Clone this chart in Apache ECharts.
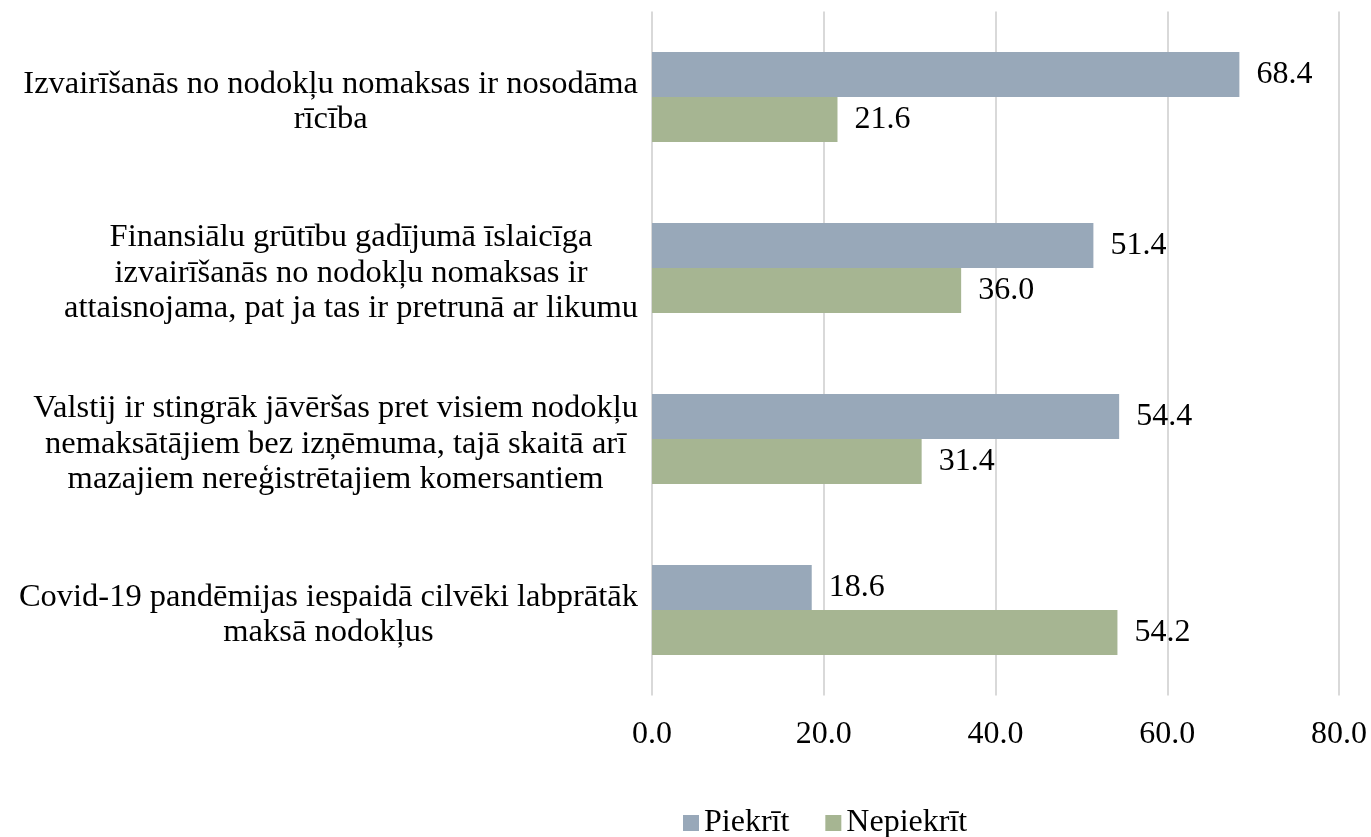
<!DOCTYPE html>
<html>
<head>
<meta charset="utf-8">
<script src="https://cdn.jsdelivr.net/npm/echarts@6/dist/echarts.min.js"></script>
<style>
  html, body { margin: 0; padding: 0; background: #fff; }
  #chart { width: 1371px; height: 837px; }
</style>
</head>
<body>
<div id="chart"></div>
<script>
const categories = [
  "Izvairīšanās no nodokļu nomaksas ir nosodāma\nrīcība",
  "Finansiālu grūtību gadījumā īslaicīga\nizvairīšanās no nodokļu nomaksas ir\nattaisnojama, pat ja tas ir pretrunā ar likumu",
  "Valstij ir stingrāk jāvēršas pret visiem nodokļu\nnemaksātājiem bez izņēmuma, tajā skaitā arī\nmazajiem nereģistrētajiem komersantiem",
  "Covid-19 pandēmijas iespaidā cilvēki labprātāk\nmaksā nodokļus"
];
const piekrit = [68.4, 51.4, 54.4, 18.6];
const nepiekrit = [21.6, 36.0, 31.4, 54.2];
const xTicks = [0, 20, 40, 60, 80];

const font = "'Liberation Serif', 'Times New Roman', serif";

const chart = echarts.init(document.getElementById("chart"));

const barLabel = {
  show: true,
  position: "right",
  distance: 17,
  fontFamily: font,
  fontSize: 32,
  color: "#000",
  formatter: (p) => p.value.toFixed(1),
};

chart.setOption({
  animation: false,
  textStyle: { fontFamily: font },
  grid: { left: 652, right: 32, top: 11.5, bottom: 141.5, containLabel: false },
  legend: {
    top: 802,
    left: 678,
    itemWidth: 16,
    itemHeight: 16,
    itemGap: 36,
    icon: "rect",
    textStyle: { fontFamily: font, fontSize: 32, color: "#000" },
    data: ["Piekrīt", "Nepiekrīt"],
  },
  xAxis: {
    type: "value",
    min: xTicks[0],
    max: xTicks[xTicks.length - 1],
    interval: 20,
    axisLine: { show: false },
    axisTick: { show: false },
    splitLine: { lineStyle: { color: "#d9d9d9", width: 2 } },
    axisLabel: {
      margin: 23,
      fontFamily: font,
      fontSize: 32,
      color: "#000",
      formatter: (v) => v.toFixed(1),
    },
  },
  yAxis: {
    type: "category",
    inverse: true,
    data: categories,
    axisLine: { show: false },
    axisTick: { show: false },
    axisLabel: {
      margin: 14,
      align: "right",
      padding: [10, 0, 0, 0],
      formatter: (v) => v.split("\n").map((l) => "{c|" + l + "}").join("\n"),
      rich: {
        c: {
          align: "center",
          fontFamily: font,
          fontSize: 32.5,
          lineHeight: 35.5,
          color: "#000",
        },
      },
    },
  },
  series: [
    {
      name: "Piekrīt",
      type: "bar",
      data: piekrit,
      barWidth: 45,
      barGap: "0%",
      itemStyle: { color: "#98A8B9" },
      label: barLabel,
    },
    {
      name: "Nepiekrīt",
      type: "bar",
      data: nepiekrit,
      barWidth: 45,
      barGap: "0%",
      itemStyle: { color: "#A6B592" },
      label: barLabel,
    },
  ],
});
</script>
</body>
</html>
